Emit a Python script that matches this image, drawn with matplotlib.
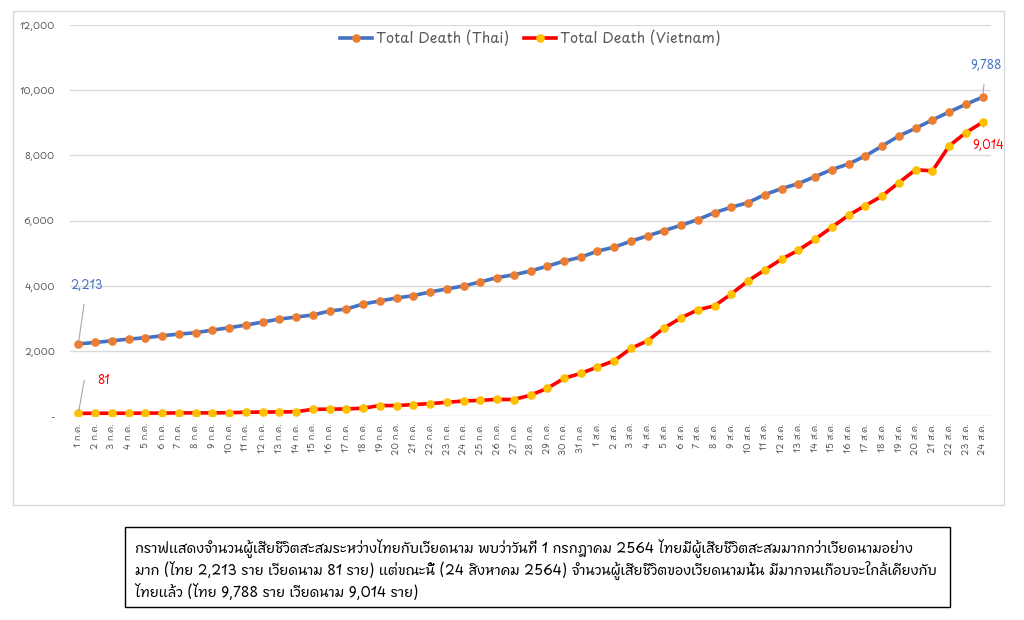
import matplotlib
matplotlib.use("Agg")
import matplotlib.pyplot as plt
from matplotlib import font_manager
from matplotlib.patches import Rectangle

# ---------------- data ----------------
dates_jul = [f"{d} ก.ค." for d in range(1, 32)]
dates_aug = [f"{d} ส.ค." for d in range(1, 25)]
categories = dates_jul + dates_aug

thai_deaths = [2213, 2257, 2308, 2360, 2401, 2462, 2514, 2555, 2637, 2709,
               2791, 2883, 2975, 3037, 3099, 3222, 3283, 3437, 3529, 3622,
               3694, 3807, 3899, 3991, 4114, 4248, 4332, 4450, 4599, 4752,
               4875, 5059, 5182, 5366, 5529, 5693, 5856, 6030, 6244, 6408,
               6551, 6796, 6980, 7134, 7348, 7563, 7737, 7982, 8288, 8595,
               8830, 9086, 9331, 9566, 9788]

vietnam_deaths = [81, 85, 85, 85, 90, 90, 95, 95, 95, 100,
                  115, 120, 125, 130, 205, 210, 215, 240, 320, 320,
                  350, 380, 420, 460, 480, 510, 505, 640, 848, 1155,
                  1308, 1502, 1697, 2075, 2310, 2708, 3015, 3260, 3383, 3751,
                  4149, 4487, 4814, 5090, 5427, 5795, 6162, 6459, 6755, 7164,
                  7560, 7520, 8289, 8697, 9014]

series_names = ["Total Death (Thai)", "Total Death (Vietnam)"]
y_ticks = [0, 2000, 4000, 6000, 8000, 10000, 12000]
y_ticklabels = ["-", "2,000", "4,000", "6,000", "8,000", "10,000", "12,000"]

caption_lines = [
    "กราฟแสดงจำนวนผู้เสียชีวิตสะสมระหว่างไทยกับเวียดนาม พบว่าวันที่ 1 กรกฎาคม 2564 ไทยมีผู้เสียชีวิตสะสมมากกว่าเวียดนามอย่าง",
    "มาก (ไทย 2,213 ราย เวียดนาม 81 ราย) แต่ขณะนี้ (24 สิงหาคม 2564) จำนวนผู้เสียชีวิตของเวียดนามนั้น มีมากจนเกือบจะใกล้เคียงกับ",
    "ไทยแล้ว (ไทย 9,788 ราย เวียดนาม 9,014 ราย)",
]

# ---------------- fonts ----------------
def find_thai_font():
    try:
        from fontTools.ttLib import TTFont
    except Exception:
        return None
    best = None
    for f in font_manager.fontManager.ttflist:
        try:
            tt = TTFont(f.fname, fontNumber=0, lazy=True)
            cmap = tt.getBestCmap()
            if cmap and 0x0E01 in cmap and 0x0E2A in cmap and 0x0E49 in cmap:
                if best is None or "Thai" in f.name:
                    best = f.name
        except Exception:
            continue
    return best

thai_font = find_thai_font()
families = ([thai_font] if thai_font else []) + ["DejaVu Sans"]
plt.rcParams["font.family"] = families

W, H = 1024, 620
fig = plt.figure(figsize=(W / 100, H / 100), dpi=100)
fig.patch.set_facecolor("white")

def px(x0, y0, x1, y1):
    return [x0 / W, 1 - y1 / H, (x1 - x0) / W, (y1 - y0) / H]

# outer chart frame
fig.patches.append(Rectangle((13 / W, 1 - 505 / H), (1004 - 13) / W, (505 - 11) / H,
                             transform=fig.transFigure, fill=False,
                             edgecolor="#d9d9d9", linewidth=1.0))

ax = fig.add_axes(px(70, 25, 991, 416))
x = list(range(len(categories)))
blue, orange, red, gold = "#4472C4", "#ED7D31", "#FF0000", "#FFC000"
ax.plot(x, thai_deaths, color=blue, lw=2.6, marker="o", ms=5.2,
        mfc=orange, mec=orange, label=series_names[0], zorder=3)
ax.plot(x, vietnam_deaths, color=red, lw=2.6, marker="o", ms=5.2,
        mfc=gold, mec=gold, label=series_names[1], zorder=3)

ax.set_xlim(-0.5, len(categories) - 0.5)
ax.set_ylim(0, 12000)
ax.set_yticks(y_ticks)
ax.set_yticklabels(y_ticklabels)
ax.set_xticks(x)
ax.set_xticklabels(categories, rotation=90)
for s in ax.spines.values():
    s.set_visible(False)
ax.grid(axis="y", color="#d9d9d9", lw=1.0)
ax.set_axisbelow(True)
ax.tick_params(axis="y", length=0, pad=11, labelsize=7, labelcolor="#595959")
ax.tick_params(axis="x", length=0, pad=5, labelsize=6.5, labelcolor="#595959")

leg = ax.legend(loc="upper center", bbox_to_anchor=(0.5, 1.012), ncol=2, frameon=False,
                fontsize=10.5, labelcolor="#595959", handlelength=2.2,
                columnspacing=1.0, handletextpad=0.3, borderaxespad=0.3)

# data labels with leader lines
lead = dict(color="#a6a6a6", lw=0.8)
ax.annotate("2,213", xy=(0, thai_deaths[0]), xytext=(0.5, 4000),
            ha="center", va="center", color=blue, fontsize=8.5,
            arrowprops=dict(arrowstyle="-", shrinkA=6, shrinkB=2, **lead))
ax.annotate("81", xy=(0, vietnam_deaths[0]), xytext=(1.5, 1080),
            ha="center", va="center", color=red, fontsize=8.5, fontweight="bold",
            arrowprops=dict(arrowstyle="-", shrinkA=7, shrinkB=2,
                            connectionstyle="angle,angleA=0,angleB=80,rad=0", **lead))
ax.annotate("9,788", xy=(54, thai_deaths[-1]), xytext=(54.2, 10750),
            ha="center", va="center", color=blue, fontsize=8.5,
            arrowprops=dict(arrowstyle="-", shrinkA=6, shrinkB=3, **lead))
ax.annotate("9,014", xy=(54, vietnam_deaths[-1]), xytext=(54.3, 8300),
            ha="center", va="center", color=red, fontsize=8.5, fontweight="bold",
            arrowprops=dict(arrowstyle="-", shrinkA=6, shrinkB=3, **lead))

# caption box
fig.patches.append(Rectangle((125 / W, 1 - 607 / H), (950 - 125) / W, (607 - 527) / H,
                             transform=fig.transFigure, fill=False,
                             edgecolor="black", linewidth=1.0))
for i, line in enumerate(caption_lines):
    fig.text(135 / W, 1 - (548 + 22.5 * i) / H, line, ha="left", va="center",
             fontsize=10, color="black", fontweight="bold")

fig.savefig("out.png", dpi=100)
